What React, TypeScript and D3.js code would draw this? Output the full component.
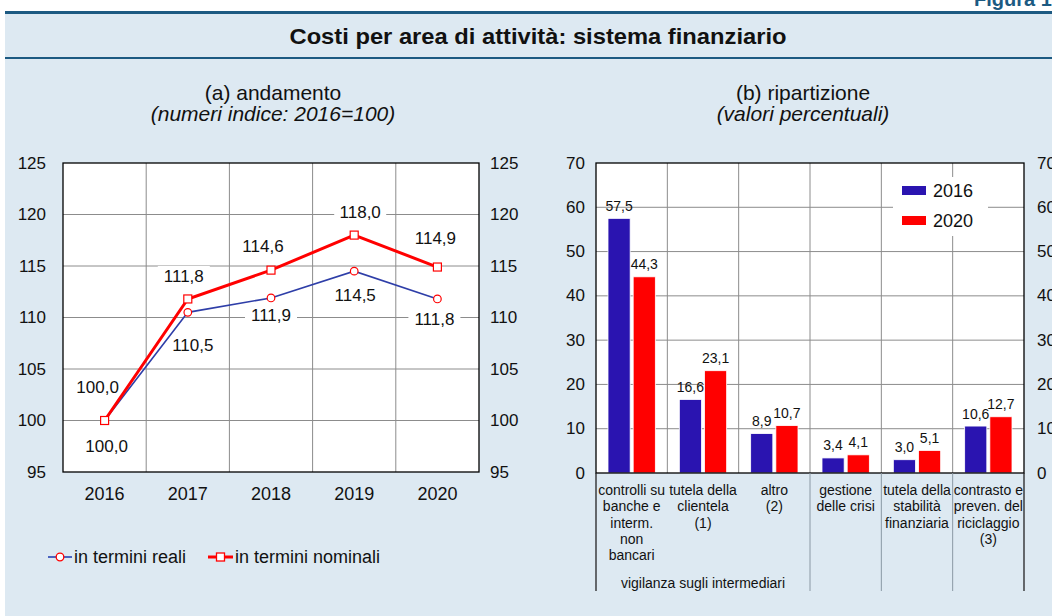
import * as d3 from "d3";

// (a) andamento – numeri indice 2016=100
const years = ["2016", "2017", "2018", "2019", "2020"];
const reali = [100.0, 110.5, 111.9, 114.5, 111.8];
const nominali = [100.0, 111.8, 114.6, 118.0, 114.9];
const leftTicks = [95, 100, 105, 110, 115, 120, 125];

// (b) ripartizione – valori percentuali
const categories = [
  ["controlli su", "banche e", "interm.", "non", "bancari"],
  ["tutela della", "clientela", "(1)"],
  ["altro", "(2)"],
  ["gestione", "delle crisi"],
  ["tutela della", "stabilità", "finanziaria"],
  ["contrasto e", "preven. del", "riciclaggio", "(3)"],
];
const series = ["2016", "2020"];
const values2016 = [57.5, 16.6, 8.9, 3.4, 3.0, 10.6];
const values2020 = [44.3, 23.1, 10.7, 4.1, 5.1, 12.7];
const rightTicks = [0, 10, 20, 30, 40, 50, 60, 70];

// label nudges (dx, dy)
const realiLabelPos = [[2, 26], [5, 33], [0, 18], [1, 24], [-3, 21]];
const nominaliLabelPos = [[-7, -33], [-4, -22], [-8, -24], [6, -23], [-2, -29]];

const BG = "#dde9f2";
const NAVY = "#1c5a82";
const BLUE_LINE = "#2e3ea8";
const BLUE_BAR = "#2a14b0";
const RED = "#ff0000";
const GRID = "#8c8c8c";
const FONT = "'Liberation Sans', Arial, Helvetica, sans-serif";

const fmt = (v: number) => d3.format(".1f")(v).replace(".", ",");

function LeftChart() {
  const x = d3.scaleBand<string>().domain(years).range([63, 479]).padding(0);
  const y = d3.scaleLinear().domain([95, 125]).range([472, 163]);
  const cx = (d: string) => (x(d) ?? 0) + x.bandwidth() / 2;

  const line = d3
    .line<number>()
    .x((_, i) => cx(years[i]))
    .y((d) => y(d));

  const labels = (vals: number[], pos: number[][]) =>
    vals.map((v, i) => {
      const lx = cx(years[i]) + pos[i][0];
      const ly = y(v) + pos[i][1];
      return (
        <g key={i}>
          <rect x={lx - 26} y={ly - 11} width={52} height={22} fill="#fff" />
          <text x={lx} y={ly} textAnchor="middle" dominantBaseline="central" fontSize={17}>
            {fmt(v)}
          </text>
        </g>
      );
    });

  return (
    <g fontFamily={FONT} fill="#111">
      <text x={273} y={92} textAnchor="middle" dominantBaseline="central" fontSize={21}>
        (a) andamento
      </text>
      <text x={273} y={113} textAnchor="middle" dominantBaseline="central" fontSize={21} fontStyle="italic">
        (numeri indice: 2016=100)
      </text>

      <rect x={63} y={163} width={416} height={309} fill="#fff" />
      {leftTicks.slice(1, -1).map((t) => (
        <line key={t} x1={63} x2={479} y1={y(t)} y2={y(t)} stroke={GRID} strokeWidth={1} />
      ))}
      {years.slice(1).map((yr) => (
        <line key={yr} x1={x(yr)} x2={x(yr)} y1={163} y2={472} stroke={GRID} strokeWidth={1} />
      ))}

      {labels(reali, realiLabelPos)}
      {labels(nominali, nominaliLabelPos)}

      <path d={line(reali) ?? ""} fill="none" stroke={BLUE_LINE} strokeWidth={1.6} />
      <path d={line(nominali) ?? ""} fill="none" stroke={RED} strokeWidth={3} />
      {reali.map((v, i) => (
        <circle key={i} cx={cx(years[i])} cy={y(v)} r={3.8} fill="#fff" stroke={RED} strokeWidth={1.2} />
      ))}
      {nominali.map((v, i) => (
        <rect key={i} x={cx(years[i]) - 4} y={y(v) - 4} width={8} height={8} fill="#fff" stroke={RED} strokeWidth={1.2} />
      ))}

      <rect x={63} y={163} width={416} height={309} fill="none" stroke="#000" strokeWidth={1.3} />

      {leftTicks.map((t) => (
        <g key={t}>
          <text x={46} y={y(t)} textAnchor="end" dominantBaseline="central" fontSize={17}>
            {t}
          </text>
          <text x={490} y={y(t)} textAnchor="start" dominantBaseline="central" fontSize={17}>
            {t}
          </text>
        </g>
      ))}
      {years.map((yr) => (
        <text key={yr} x={cx(yr)} y={494} textAnchor="middle" dominantBaseline="central" fontSize={18}>
          {yr}
        </text>
      ))}

      {/* legend */}
      <line x1={48} x2={72} y1={557} y2={557} stroke="#4a63c0" strokeWidth={2} />
      <circle cx={60} cy={557} r={3.8} fill="#fff" stroke={RED} strokeWidth={1.3} />
      <text x={74} y={557} dominantBaseline="central" fontSize={18}>
        in termini reali
      </text>
      <line x1={208} x2={233} y1={557} y2={557} stroke={RED} strokeWidth={3} />
      <rect x={216.5} y={553} width={8} height={8} fill="#fff" stroke={RED} strokeWidth={1.3} />
      <text x={235} y={557} dominantBaseline="central" fontSize={18}>
        in termini nominali
      </text>
    </g>
  );
}

function RightChart() {
  const cats = categories.map((_, i) => String(i));
  const x = d3.scaleBand<string>().domain(cats).range([596, 1024]).padding(0);
  const xs = d3
    .scaleBand<string>()
    .domain(series)
    .range([12, x.bandwidth() - 12])
    .paddingInner(0.12);
  const y = d3.scaleLinear().domain([0, 70]).range([473, 163]);
  const data = [values2016, values2020];
  const colors = [BLUE_BAR, RED];

  return (
    <g fontFamily={FONT} fill="#111">
      <text x={803} y={92} textAnchor="middle" dominantBaseline="central" fontSize={21}>
        (b) ripartizione
      </text>
      <text x={803} y={113} textAnchor="middle" dominantBaseline="central" fontSize={21} fontStyle="italic">
        (valori percentuali)
      </text>

      <rect x={596} y={163} width={428} height={310} fill="#fff" />
      {rightTicks.slice(1, -1).map((t) => (
        <line key={t} x1={596} x2={1024} y1={y(t)} y2={y(t)} stroke={GRID} strokeWidth={1} />
      ))}
      {cats.slice(1).map((c) => (
        <line key={c} x1={x(c)} x2={x(c)} y1={163} y2={473} stroke={GRID} strokeWidth={1} />
      ))}

      {/* legend box */}
      <rect x={893} y={177} width={95} height={59} fill="#fff" />
      {series.map((s, i) => (
        <g key={s}>
          <rect x={902} y={186 + i * 30} width={24} height={9} fill={colors[i]} />
          <text x={933} y={190.5 + i * 30} dominantBaseline="central" fontSize={18}>
            {s}
          </text>
        </g>
      ))}

      {cats.map((c, ci) =>
        series.map((s, si) => {
          const v = data[si][ci];
          const bx = (x(c) ?? 0) + (xs(s) ?? 0);
          return (
            <g key={c + s}>
              <rect x={bx} y={y(v)} width={xs.bandwidth()} height={473 - y(v)} fill={colors[si]} stroke="#fff" strokeWidth={0.8} />
              <text x={bx + xs.bandwidth() / 2} y={y(v) - 12.5} textAnchor="middle" dominantBaseline="central" fontSize={14}>
                {fmt(v)}
              </text>
            </g>
          );
        })
      )}

      <rect x={596} y={163} width={428} height={310} fill="none" stroke="#000" strokeWidth={1.3} />

      {/* separators below the axis */}
      {cats.slice(3).map((c) => (
        <line key={c} x1={x(c)} x2={x(c)} y1={473} y2={591} stroke="#8a98a4" strokeWidth={1} />
      ))}
      <line x1={596} x2={596} y1={473} y2={591} stroke="#222" strokeWidth={1.3} />
      <line x1={1024} x2={1024} y1={473} y2={591} stroke="#222" strokeWidth={1.3} />

      {categories.map((lines, ci) =>
        lines.map((l, li) => (
          <text
            key={ci + "-" + li}
            x={(x(String(ci)) ?? 0) + x.bandwidth() / 2}
            y={490 + li * 16.3}
            textAnchor="middle"
            dominantBaseline="central"
            fontSize={14}
          >
            {l}
          </text>
        ))
      )}
      <text x={703} y={583} textAnchor="middle" dominantBaseline="central" fontSize={14}>
        vigilanza sugli intermediari
      </text>

      {rightTicks.map((t) => (
        <g key={t}>
          <text x={585} y={y(t)} textAnchor="end" dominantBaseline="central" fontSize={17}>
            {t}
          </text>
          <text x={1037} y={y(t)} textAnchor="start" dominantBaseline="central" fontSize={17}>
            {t}
          </text>
        </g>
      ))}
    </g>
  );
}

export default function App() {
  return (
    <svg
      width={1052}
      height={616}
      viewBox="0 0 1052 616"
      style={{ position: "absolute", left: 0, top: 0, display: "block" }}
    >
      <rect x={0} y={0} width={1052} height={616} fill="#fff" />
      <text x={974} y={6} textAnchor="start" fontFamily={FONT} fontWeight="bold" fontSize={20} fill={NAVY}>
        Figura 1
      </text>
      <rect x={5} y={14} width={1047} height={602} fill={BG} />
      <rect x={5} y={11} width={1047} height={3} fill={NAVY} />
      <rect x={5} y={57} width={1047} height={2} fill={NAVY} />
      <text
        x={538}
        y={36}
        textAnchor="middle"
        dominantBaseline="central"
        fontFamily={FONT}
        fontWeight="bold"
        fontSize={22}
        textLength={497}
        lengthAdjust="spacingAndGlyphs"
        fill="#111"
      >
        Costi per area di attività: sistema finanziario
      </text>
      <LeftChart />
      <RightChart />
    </svg>
  );
}
